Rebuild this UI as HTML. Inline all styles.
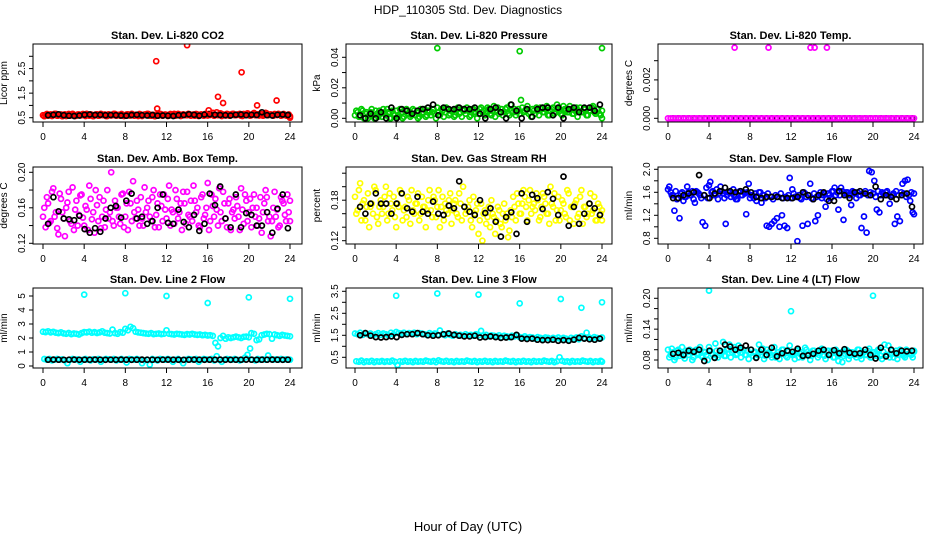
<!DOCTYPE html>
<html><head><meta charset="utf-8">
<style>
html,body{margin:0;padding:0;background:#fff;}
svg{display:block;font-family:"Liberation Sans",Arial,sans-serif;}
</style></head>
<body>
<svg id="chart" width="936" height="540" viewBox="0 0 936 540">
<text x="468" y="14" text-anchor="middle" font-size="12">HDP_110305  Std. Dev. Diagnostics</text>
<text x="468" y="531" text-anchor="middle" font-size="13">Hour of Day (UTC)</text>
</svg>
<script>
const hourTicks=[0,4,8,12,16,20,24];
const co2Main=[0.60,0.62,0.58,0.64,0.60,0.66,0.59,0.63,0.61,0.57,0.65,0.60,0.62,0.58,0.63,0.60,0.61,0.66,0.58,0.62,0.60,0.64,0.59,0.61,0.63,0.57,0.62,0.60,0.65,0.61,0.58,0.62,0.60,0.64,0.59,0.61,0.62,0.57,0.63,0.60,0.61,0.65,0.58,0.62,0.60,0.59,0.64,0.61,0.62,0.58,0.60,0.66,0.61,0.63,0.59,0.62,0.60,0.64,0.61,0.58,0.63,0.60,0.62,0.65,0.59,0.61,0.70,0.62,0.60,0.68,0.63,0.59,0.64,0.61,0.66,0.60,0.62,0.58,0.65,0.61,0.63,0.60,0.69,0.62,0.59,0.64,0.61,0.67,0.62,0.60,0.65,0.61,0.63,0.60,0.62,0.58,0.50];
const co2Main2=[0.56,0.65,0.61,0.57,0.66,0.58,0.62,0.56,0.64,0.60,0.58,0.66,0.57,0.63,0.59,0.65,0.57,0.62,0.64,0.56,0.63,0.58,0.66,0.60,0.57,0.64,0.59,0.66,0.58,0.62,0.65,0.57,0.63,0.59,0.66,0.58,0.60,0.65,0.57,0.63,0.66,0.58,0.62,0.56,0.64,0.66,0.58,0.63,0.57,0.65,0.62,0.58,0.66,0.57,0.64,0.60,0.66,0.58,0.63,0.65,0.57,0.64,0.58,0.61,0.66,0.63,0.58,0.72,0.64,0.57,0.62,0.66,0.58,0.65,0.60,0.63,0.66,0.57,0.62,0.68,0.58,0.65,0.60,0.64,0.66,0.58,0.70,0.60,0.64,0.58,0.62,0.66,0.58,0.65,0.59,0.63,0.56];
const co2Black=[0.60,0.62,0.64,0.60,0.58,0.57,0.59,0.62,0.63,0.61,0.62,0.60,0.61,0.60,0.59,0.58,0.61,0.62,0.60,0.59,0.61,0.58,0.59,0.58,0.57,0.60,0.61,0.64,0.62,0.58,0.63,0.64,0.62,0.61,0.60,0.59,0.62,0.63,0.60,0.62,0.61,0.72,0.60,0.59,0.62,0.63,0.61];
const co2OutHours=[11,14,19.3,17,17.5,20.8,22.7,16.1,11.1];
const co2OutVals=[2.8,3.45,2.35,1.35,1.1,1.0,1.2,0.8,0.87];
const presMain=[0.002,0.004,0.001,0.005,0.003,0.000,0.004,0.002,0.005,0.001,0.003,0.006,0.002,0.004,0.000,0.003,0.005,0.002,0.004,0.001,0.006,0.003,0.002,0.005,0.004,0.001,0.003,0.006,0.002,0.005,0.004,0.003,0.007,0.002,0.005,0.004,0.006,0.003,0.005,0.002,0.007,0.004,0.006,0.003,0.005,0.002,0.006,0.004,0.003,0.007,0.005,0.004,0.006,0.002,0.008,0.005,0.003,0.006,0.004,0.007,0.002,0.005,0.006,0.004,0.003,0.007,0.005,0.008,0.004,0.006,0.003,0.005,0.007,0.004,0.006,0.002,0.005,0.007,0.004,0.006,0.003,0.008,0.005,0.004,0.006,0.003,0.007,0.005,0.004,0.006,0.002,0.005,0.007,0.004,0.006,0.003,0.005];
const presMain2=[0.005,0.001,0.006,0.000,0.004,0.002,0.006,0.000,0.003,0.005,0.001,0.004,0.006,0.000,0.005,0.002,0.001,0.006,0.000,0.005,0.003,0.001,0.006,0.002,0.000,0.006,0.004,0.001,0.005,0.002,0.006,0.000,0.004,0.006,0.001,0.007,0.002,0.005,0.001,0.006,0.003,0.001,0.005,0.007,0.001,0.006,0.003,0.000,0.006,0.004,0.002,0.007,0.003,0.005,0.001,0.007,0.004,0.002,0.006,0.003,0.009,0.004,0.002,0.006,0.012,0.004,0.006,0.003,0.001,0.005,0.007,0.002,0.006,0.004,0.008,0.002,0.006,0.003,0.009,0.005,0.002,0.006,0.004,0.008,0.003,0.005,0.001,0.007,0.004,0.006,0.002,0.005,0.008,0.003,0.006,0.002,0.000];
const presBlack=[0.002,0.000,0.003,0.000,0.004,0.000,0.007,0.000,0.006,0.005,0.003,0.005,0.006,0.007,0.009,0.002,0.007,0.006,0.006,0.007,0.006,0.006,0.007,0.003,0.000,0.006,0.007,0.004,0.000,0.009,0.005,0.000,0.006,0.001,0.006,0.007,0.007,0.002,0.007,0.000,0.006,0.007,0.004,0.007,0.007,0.005,0.009];
const presOutHours=[8,16,24];
const presOutVals=[0.046,0.044,0.046];
const tempMain=[0,0,0,0,0,0,0,0,0,0,0,0,0,0,0,0,0,0,0,0,0,0,0,0,0,0,0,0,0,0,0,0,0,0,0,0,0,0,0,0,0,0,0,0,0,0,0,0,0,0,0,0,0,0,0,0,0,0,0,0,0,0,0,0,0,0,0,0,0,0,0,0,0,0,0,0,0,0,0,0,0,0,0,0,0,0,0,0,0,0,0,0,0,0,0,0,0];
const tempBlack=[0,0,0,0,0,0,0,0,0,0,0,0,0,0,0,0,0,0,0,0,0,0,0,0,0,0,0,0,0,0,0,0,0,0,0,0,0,0,0,0,0,0,0,0,0,0,0];
const tempOutHours=[6.5,9.8,13.9,14.3,15.5];
const tempOutVals=[0.00368,0.00368,0.00368,0.00368,0.00368];
const ambA=[0.150,0.138,0.165,0.145,0.182,0.155,0.130,0.170,0.148,0.160,0.178,0.142,0.135,0.168,0.152,0.175,0.140,0.158,0.185,0.147,0.132,0.163,0.172,0.150,0.138,0.180,0.155,0.145,0.168,0.160,0.142,0.176,0.150,0.135,0.165,0.190,0.148,0.158,0.172,0.140,0.155,0.168,0.145,0.180,0.152,0.138,0.162,0.175,0.148,0.185,0.158,0.142,0.170,0.155,0.135,0.165,0.178,0.150,0.145,0.168,0.160,0.138,0.175,0.152,0.188,0.145,0.162,0.170,0.140,0.155,0.178,0.148,0.165,0.135,0.158,0.172,0.150,0.182,0.142,0.168,0.155,0.138,0.175,0.160,0.148,0.132,0.165,0.172,0.150,0.145,0.178,0.158,0.140,0.168,0.152,0.175,0.145];
const ambB=[0.160,0.172,0.143,0.178,0.150,0.137,0.176,0.155,0.128,0.166,0.145,0.183,0.158,0.140,0.174,0.149,0.162,0.135,0.170,0.155,0.180,0.145,0.137,0.168,0.158,0.148,0.200,0.140,0.160,0.150,0.175,0.138,0.165,0.178,0.145,0.155,0.168,0.140,0.148,0.183,0.160,0.150,0.172,0.138,0.165,0.175,0.145,0.158,0.170,0.140,0.155,0.180,0.148,0.165,0.178,0.142,0.152,0.168,0.185,0.155,0.140,0.172,0.148,0.160,0.135,0.175,0.150,0.158,0.182,0.145,0.165,0.138,0.170,0.155,0.148,0.162,0.135,0.158,0.175,0.145,0.170,0.160,0.150,0.140,0.172,0.155,0.180,0.145,0.128,0.160,0.150,0.138,0.172,0.165,0.145,0.155,0.168];
const ambBlack=[0.142,0.172,0.156,0.148,0.147,0.146,0.151,0.136,0.132,0.137,0.133,0.148,0.160,0.162,0.149,0.168,0.176,0.148,0.150,0.142,0.145,0.160,0.175,0.143,0.142,0.158,0.144,0.138,0.152,0.134,0.142,0.176,0.163,0.184,0.148,0.138,0.175,0.138,0.154,0.152,0.140,0.140,0.155,0.132,0.159,0.175,0.137];
const rhA=[0.185,0.165,0.205,0.175,0.150,0.190,0.170,0.160,0.195,0.145,0.180,0.170,0.200,0.160,0.175,0.185,0.140,0.170,0.190,0.165,0.155,0.180,0.195,0.160,0.175,0.150,0.185,0.170,0.165,0.195,0.155,0.180,0.170,0.140,0.185,0.175,0.160,0.190,0.165,0.180,0.155,0.175,0.200,0.160,0.170,0.150,0.185,0.165,0.130,0.175,0.160,0.145,0.170,0.180,0.155,0.150,0.165,0.140,0.175,0.160,0.135,0.155,0.170,0.190,0.160,0.175,0.185,0.150,0.195,0.170,0.165,0.180,0.155,0.190,0.175,0.160,0.200,0.170,0.150,0.185,0.165,0.175,0.155,0.190,0.170,0.145,0.180,0.160,0.195,0.170,0.155,0.175,0.160,0.185,0.150,0.170,0.165];
const rhB=[0.160,0.195,0.150,0.180,0.170,0.140,0.175,0.200,0.155,0.170,0.160,0.185,0.150,0.190,0.165,0.155,0.175,0.195,0.150,0.170,0.185,0.145,0.165,0.175,0.190,0.160,0.170,0.140,0.180,0.165,0.185,0.155,0.195,0.170,0.150,0.165,0.180,0.145,0.175,0.160,0.190,0.150,0.170,0.165,0.180,0.140,0.160,0.175,0.150,0.120,0.165,0.155,0.140,0.160,0.130,0.170,0.145,0.160,0.150,0.125,0.165,0.185,0.150,0.175,0.160,0.195,0.170,0.180,0.160,0.175,0.190,0.150,0.170,0.185,0.160,0.145,0.175,0.190,0.165,0.150,0.180,0.160,0.195,0.150,0.170,0.175,0.155,0.185,0.145,0.170,0.160,0.190,0.165,0.150,0.175,0.160,0.150];
const rhBlack=[0.170,0.160,0.175,0.190,0.175,0.175,0.160,0.175,0.190,0.168,0.163,0.185,0.163,0.160,0.178,0.160,0.158,0.172,0.168,0.208,0.170,0.163,0.158,0.180,0.161,0.168,0.148,0.126,0.155,0.162,0.130,0.190,0.148,0.188,0.183,0.167,0.192,0.182,0.158,0.215,0.142,0.170,0.145,0.160,0.175,0.168,0.158];
const flowA=[1.65,1.60,1.55,1.62,1.50,1.58,1.45,1.52,1.60,1.55,1.48,1.62,1.58,1.50,1.55,1.68,1.72,1.60,1.55,1.65,1.58,1.62,1.50,1.55,1.60,1.58,1.52,1.48,1.62,1.55,1.58,1.60,1.50,1.55,1.58,1.52,1.60,1.55,1.50,1.58,1.52,1.48,1.55,1.52,1.58,1.50,1.52,1.55,1.50,1.58,1.52,1.55,1.48,1.60,1.52,1.55,1.50,1.58,1.52,1.55,1.50,1.58,1.48,1.55,1.62,1.68,1.60,1.55,1.62,1.58,1.60,1.55,1.62,1.58,1.60,1.55,1.58,1.62,1.55,1.60,1.58,1.52,1.62,1.55,1.58,1.60,1.55,1.52,1.58,1.62,1.55,1.60,1.58,1.52,1.55,1.60,1.58];
const flowB=[1.70,1.55,1.28,1.48,1.15,1.60,1.52,1.70,1.55,1.62,1.42,1.60,1.55,1.08,1.02,1.50,1.78,1.62,1.55,1.48,1.70,1.58,1.05,1.60,1.52,1.65,1.48,1.60,1.55,1.60,1.22,1.75,1.55,1.50,1.45,1.60,1.42,1.55,1.02,1.00,1.05,1.10,1.15,1.00,1.20,1.02,0.98,1.85,1.65,1.52,0.75,1.50,1.02,1.58,1.05,1.75,1.48,1.10,1.20,1.60,1.55,1.35,1.58,1.50,1.62,1.55,1.30,1.68,1.12,1.60,1.55,1.38,1.60,1.50,1.55,0.98,1.18,0.90,1.97,1.95,1.80,1.30,1.25,1.60,1.55,1.62,1.40,1.55,1.05,1.18,1.10,1.75,1.80,1.82,1.45,1.25,1.22];
const flowBlack=[1.50,1.50,1.55,1.58,1.60,1.90,1.55,1.50,1.58,1.62,1.68,1.62,1.60,1.62,1.65,1.60,1.52,1.50,1.52,1.52,1.52,1.50,1.50,1.50,1.52,1.60,1.55,1.48,1.55,1.60,1.45,1.45,1.62,1.55,1.50,1.60,1.62,1.58,1.55,1.70,1.48,1.55,1.52,1.48,1.55,1.58,1.35];
const l2A=[2.45,2.42,2.48,2.40,2.44,2.38,2.35,2.40,2.33,2.30,2.36,2.28,2.32,2.30,2.25,2.35,2.42,2.40,2.45,2.38,2.42,2.36,2.40,2.48,2.38,2.35,2.32,2.60,2.35,2.30,2.42,2.38,2.65,2.55,2.80,2.70,2.45,2.40,2.38,2.35,2.32,2.30,2.35,2.28,2.30,2.32,2.28,2.30,2.55,2.30,2.28,2.25,2.30,2.28,2.25,2.22,2.28,2.25,2.30,2.25,2.22,2.25,2.20,2.22,2.18,2.20,2.15,1.65,1.40,2.00,2.15,1.95,2.05,2.00,2.05,2.10,2.05,2.00,2.08,2.10,2.05,2.35,2.30,1.85,1.90,2.20,2.25,2.30,2.28,1.95,2.25,2.20,2.15,2.22,2.18,2.15,2.12];
const l2B=[0.50,0.45,0.50,0.40,0.45,0.50,0.45,0.48,0.40,0.20,0.45,0.50,0.45,0.48,0.30,0.45,0.50,0.45,0.40,0.48,0.45,0.50,0.30,0.45,0.50,0.48,0.45,0.50,0.40,0.45,0.50,0.45,0.25,0.50,0.48,0.45,0.50,0.45,0.20,0.40,0.45,0.10,0.50,0.45,0.40,0.50,0.48,0.45,0.50,0.45,0.30,0.45,0.50,0.40,0.20,0.45,0.50,0.48,0.45,0.50,0.30,0.45,0.50,0.48,0.45,0.50,0.40,0.70,0.45,0.30,0.45,0.50,0.48,0.45,0.50,0.45,0.40,0.45,0.60,0.80,1.25,0.45,0.40,0.50,0.45,0.48,0.45,0.75,0.50,0.45,0.48,0.45,0.50,0.45,0.48,0.45,0.45];
const l2Black=[0.45,0.46,0.45,0.44,0.45,0.46,0.44,0.45,0.45,0.46,0.45,0.44,0.45,0.45,0.46,0.45,0.44,0.45,0.46,0.45,0.45,0.44,0.45,0.46,0.45,0.45,0.44,0.45,0.46,0.45,0.44,0.45,0.45,0.46,0.45,0.44,0.45,0.45,0.46,0.45,0.44,0.45,0.45,0.46,0.45,0.44,0.45];
const l2OutHours=[4,8,12,16,20,24];
const l2OutVals=[5.1,5.2,5.0,4.5,4.9,4.8];
const l3A=[1.58,1.55,1.62,1.52,1.60,1.55,1.58,1.50,1.55,1.60,1.52,1.58,1.55,1.50,1.62,1.55,1.65,1.60,1.58,1.62,1.55,1.60,1.58,1.62,1.55,1.60,1.58,1.55,1.52,1.60,1.55,1.58,1.52,1.72,1.55,1.50,1.58,1.52,1.48,1.55,1.50,1.52,1.48,1.55,1.50,1.52,1.48,1.55,1.50,1.70,1.48,1.52,1.45,1.50,1.48,1.45,1.50,1.42,1.48,1.45,1.42,1.48,1.45,1.50,1.42,1.40,1.45,1.38,1.42,1.40,1.35,1.42,1.38,1.35,1.40,1.38,1.32,1.38,1.35,1.40,1.32,1.38,1.35,1.30,1.38,1.35,1.40,1.32,1.45,1.38,1.62,1.40,1.35,1.42,1.38,1.35,1.40];
const l3B=[0.32,0.30,0.35,0.28,0.32,0.30,0.34,0.28,0.32,0.30,0.33,0.29,0.32,0.30,0.35,0.30,0.15,0.32,0.30,0.34,0.30,0.32,0.28,0.33,0.30,0.32,0.30,0.35,0.32,0.30,0.33,0.28,0.36,0.32,0.30,0.34,0.30,0.32,0.28,0.33,0.30,0.32,0.30,0.35,0.32,0.30,0.33,0.28,0.32,0.30,0.34,0.30,0.32,0.28,0.33,0.30,0.32,0.30,0.35,0.32,0.30,0.33,0.28,0.32,0.30,0.34,0.30,0.32,0.28,0.33,0.30,0.32,0.30,0.35,0.32,0.30,0.33,0.28,0.32,0.50,0.34,0.30,0.32,0.28,0.33,0.30,0.32,0.30,0.35,0.32,0.30,0.33,0.28,0.32,0.30,0.34,0.30];
const l3Black=[1.50,1.60,1.48,1.42,1.40,1.42,1.45,1.42,1.52,1.55,1.55,1.60,1.55,1.50,1.48,1.50,1.55,1.58,1.52,1.48,1.45,1.45,1.48,1.40,1.42,1.45,1.42,1.38,1.40,1.42,1.52,1.35,1.33,1.35,1.30,1.28,1.28,1.30,1.25,1.28,1.25,1.30,1.38,1.35,1.32,1.30,1.35];
const l3OutHours=[4,8,12,16,20,22,24];
const l3OutVals=[3.3,3.4,3.35,2.95,3.15,2.75,3.0];
const l4A=[0.100,0.090,0.095,0.085,0.100,0.092,0.088,0.098,0.090,0.095,0.085,0.100,0.092,0.088,0.096,0.090,0.105,0.092,0.085,0.098,0.090,0.095,0.088,0.100,0.110,0.095,0.105,0.092,0.100,0.095,0.090,0.098,0.092,0.088,0.096,0.090,0.095,0.102,0.088,0.094,0.090,0.098,0.085,0.095,0.092,0.100,0.088,0.096,0.092,0.090,0.098,0.085,0.095,0.090,0.100,0.092,0.088,0.098,0.094,0.090,0.102,0.088,0.095,0.090,0.098,0.085,0.095,0.090,0.076,0.092,0.098,0.088,0.095,0.090,0.100,0.088,0.094,0.090,0.098,0.085,0.095,0.092,0.100,0.088,0.096,0.090,0.108,0.092,0.085,0.098,0.090,0.095,0.088,0.100,0.092,0.090,0.096];
const l4B=[0.085,0.102,0.080,0.098,0.088,0.105,0.083,0.095,0.100,0.080,0.098,0.090,0.105,0.085,0.095,0.080,0.098,0.090,0.112,0.085,0.098,0.115,0.088,0.102,0.085,0.098,0.090,0.108,0.085,0.100,0.090,0.082,0.100,0.095,0.085,0.110,0.090,0.082,0.100,0.095,0.085,0.105,0.090,0.082,0.100,0.092,0.085,0.108,0.090,0.082,0.100,0.092,0.085,0.104,0.090,0.080,0.098,0.092,0.085,0.100,0.090,0.082,0.098,0.092,0.085,0.100,0.078,0.095,0.088,0.100,0.082,0.095,0.090,0.085,0.100,0.082,0.095,0.090,0.102,0.085,0.095,0.088,0.100,0.082,0.110,0.090,0.085,0.098,0.092,0.082,0.100,0.090,0.085,0.098,0.092,0.085,0.098];
const l4Black=[0.092,0.094,0.090,0.098,0.096,0.100,0.078,0.098,0.084,0.098,0.110,0.106,0.100,0.104,0.108,0.100,0.084,0.100,0.090,0.104,0.087,0.093,0.098,0.096,0.102,0.088,0.089,0.092,0.098,0.100,0.090,0.099,0.093,0.101,0.094,0.092,0.093,0.100,0.090,0.083,0.104,0.087,0.100,0.093,0.098,0.097,0.098];
const l4OutHours=[4,12,20];
const l4OutVals=[0.215,0.175,0.205];

const SVGNS='http://www.w3.org/2000/svg';
const svg=document.getElementById('chart');
function el(tag,attrs,parent){const e=document.createElementNS(SVGNS,tag);for(const k in attrs)e.setAttribute(k,attrs[k]);(parent||svg).appendChild(e);return e;}

const cols=[{l:33,r:302,x0:43,x24:290},{l:346,r:612,x0:355,x24:602},{l:658,r:923,x0:668,x24:914}];
const rows=[{t:44,b:122},{t:167,b:244},{t:288,b:368}];

const panels=[
 {id:'co2',title:'Stan. Dev. Li-820 CO2',ylab:'Licor ppm',c:0,r:0,color:'#ff0000',v1:0.5,p1:117.7,v2:3.0,p2:56.3,
  ticks:[0.5,1,1.5,2,2.5,3],labels:[[0.5,'0.5'],[1.5,'1.5'],[2.5,'2.5']],
  mains:[co2Main,co2Main2],black:co2Black,outH:co2OutHours,outV:co2OutVals},
 {id:'pressure',title:'Stan. Dev. Li-820 Pressure',ylab:'kPa',c:1,r:0,color:'#00cc00',v1:0,p1:118.3,v2:0.04,p2:57.3,
  ticks:[0,0.01,0.02,0.03,0.04],labels:[[0,'0.00'],[0.02,'0.02'],[0.04,'0.04']],
  mains:[presMain,presMain2],black:presBlack,outH:presOutHours,outV:presOutVals},
 {id:'temp',title:'Stan. Dev. Li-820 Temp.',ylab:'degrees C',c:2,r:0,color:'#ff00ff',v1:0,p1:118.3,v2:0.003,p2:60.7,
  ticks:[0,0.001,0.002,0.003],labels:[[0,'0.000'],[0.002,'0.002']],
  mains:[tempMain],black:tempBlack,outH:tempOutHours,outV:tempOutVals,mainOnTop:true},
 {id:'amb-box-temp',title:'Stan. Dev. Amb. Box Temp.',ylab:'degrees C',c:0,r:1,color:'#ff00ff',v1:0.12,p1:243.3,v2:0.20,p2:172.3,
  ticks:[0.12,0.14,0.16,0.18,0.20],labels:[[0.12,'0.12'],[0.16,'0.16'],[0.20,'0.20']],
  mains:[ambA,ambB],black:ambBlack,outH:[],outV:[]},
 {id:'gas-stream-rh',title:'Stan. Dev. Gas Stream RH',ylab:'percent',c:1,r:1,color:'#ffff00',v1:0.12,p1:240.7,v2:0.22,p2:173.2,
  ticks:[0.12,0.14,0.16,0.18,0.20,0.22],labels:[[0.12,'0.12'],[0.18,'0.18']],
  mains:[rhA,rhB],black:rhBlack,outH:[],outV:[]},
 {id:'sample-flow',title:'Stan. Dev. Sample Flow',ylab:'ml/min',c:2,r:1,color:'#0000ff',v1:0.8,p1:238.3,v2:2.0,p2:169.3,
  ticks:[0.8,1.0,1.2,1.4,1.6,1.8,2.0],labels:[[0.8,'0.8'],[1.2,'1.2'],[1.6,'1.6'],[2.0,'2.0']],
  mains:[flowA,flowB],black:flowBlack,outH:[],outV:[]},
 {id:'line2-flow',title:'Stan. Dev. Line 2 Flow',ylab:'ml/min',c:0,r:2,color:'#00ffff',v1:0,p1:366,v2:5,p2:296,
  ticks:[0,1,2,3,4,5],labels:[[0,'0'],[1,'1'],[2,'2'],[3,'3'],[4,'4'],[5,'5']],
  mains:[l2A,l2B],black:l2Black,outH:l2OutHours,outV:l2OutVals},
 {id:'line3-flow',title:'Stan. Dev. Line 3 Flow',ylab:'ml/min',c:1,r:2,color:'#00ffff',v1:0.5,p1:357.3,v2:3.5,p2:291.3,
  ticks:[0.5,1,1.5,2,2.5,3,3.5],labels:[[0.5,'0.5'],[1.5,'1.5'],[2.5,'2.5'],[3.5,'3.5']],
  mains:[l3A,l3B],black:l3Black,outH:l3OutHours,outV:l3OutVals},
 {id:'line4-flow',title:'Stan. Dev. Line 4 (LT) Flow',ylab:'ml/min',c:2,r:2,color:'#00ffff',v1:0.08,p1:360,v2:0.20,p2:298.3,
  ticks:[0.08,0.10,0.12,0.14,0.16,0.18,0.20],labels:[[0.08,'0.08'],[0.14,'0.14'],[0.20,'0.20']],
  mains:[l4A,l4B],black:l4Black,outH:l4OutHours,outV:l4OutVals}
];

panels.forEach(p=>{
  const C=cols[p.c],R=rows[p.r];
  const g=el('g',{});
  
  
  const xs=h=>C.x0+h*(C.x24-C.x0)/24;
  const ys=v=>p.p1+(v-p.v1)*(p.p2-p.p1)/(p.v2-p.v1);
  const t=el('text',{x:(C.l+C.r)/2,y:R.t-5,'text-anchor':'middle','font-size':'11','font-weight':'bold'},g);
  t.textContent=p.title;
  
  
  const cx=C.l-26, cy=(R.t+R.b)/2;
  const yl=el('text',{x:cx,y:cy,'text-anchor':'middle','font-size':'10',transform:`rotate(-90 ${cx} ${cy})`},g);
  yl.textContent=p.ylab;
  
  
  const cid='clip-'+p.id;
  const cp=el('clipPath',{id:cid},g);
  el('rect',{x:C.l,y:R.t,width:C.r-C.l,height:R.b-R.t},cp);
  const pts=el('g',{'clip-path':`url(#${cid})`,fill:'none','stroke-width':'1.7'},g);
  
  
  function dot(h,v,col,name){
    const c=el('circle',{cx:xs(h).toFixed(1),cy:ys(v).toFixed(1),r:'2.5',stroke:col},pts);
    
    
  }
  function drawMain(){
    p.mains.forEach((arr,k)=>{
      const off=k*0.125;
      arr.forEach((v,i)=>dot(Math.min(24,i*24/(arr.length-1)+(k?off:0)),v,p.color,'point'));
    });
  }
  function drawBlack(){
    const n=p.black.length;
    p.black.forEach((v,i)=>dot(0.5+i*(23.8-0.5)/(n-1),v,'#000','mean-point'));
  }
  if(p.mainOnTop){drawBlack();drawMain();}else{drawMain();drawBlack();}
  p.outH.forEach((h,i)=>dot(h,p.outV[i],p.color,'outlier-point'));
  const box=el('rect',{x:C.l,y:R.t,width:C.r-C.l,height:R.b-R.t,fill:'none',stroke:'#000','stroke-width':'1'},g);
  
  
  hourTicks.forEach(h=>{
    const x=xs(h);
    el('line',{x1:x,x2:x,y1:R.b,y2:R.b+5,stroke:'#000'},g);
    const tl=el('text',{x:x,y:R.b+18,'text-anchor':'middle','font-size':'10'},g);
    tl.textContent=h;
    
    
  });
  p.ticks.forEach(v=>{
    const y=ys(v);
    el('line',{x1:C.l-4,x2:C.l,y1:y,y2:y,stroke:'#000'},g);
  });
  p.labels.forEach(([v,s])=>{
    const y=ys(v), lx=C.l-8;
    const tl=el('text',{x:lx,y:y,'text-anchor':'middle','font-size':'10',transform:`rotate(-90 ${lx} ${y})`},g);
    tl.textContent=s;
    
    
  });
});
</script>
</body></html>
